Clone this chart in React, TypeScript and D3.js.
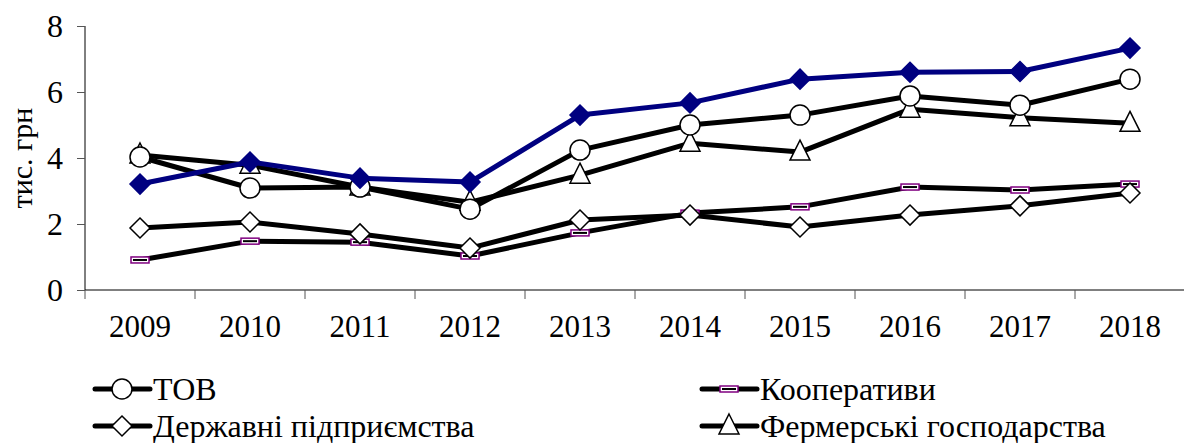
import * as d3 from "d3";
import { useRef, useEffect } from "react";

const years = ["2009", "2010", "2011", "2012", "2013", "2014", "2015", "2016", "2017", "2018"];
const yTicks = [0, 2, 4, 6, 8];

const tov = [4.03, 3.09, 3.12, 2.45, 4.24, 5.0, 5.3, 5.88, 5.6, 6.39];
const koop = [0.91, 1.48, 1.45, 1.03, 1.73, 2.33, 2.52, 3.12, 3.03, 3.21];
const derzh = [1.88, 2.06, 1.7, 1.27, 2.12, 2.27, 1.91, 2.27, 2.55, 2.94];
const ferm = [4.09, 3.78, 3.12, 2.66, 3.48, 4.45, 4.18, 5.48, 5.22, 5.05];
const total = [3.21, 3.88, 3.39, 3.27, 5.3, 5.67, 6.39, 6.6, 6.62, 7.33];

const legendNames = ["ТОВ", "Кооперативи", "Державні підприємства", "Фермерські господарства"];

const width = 1184;
const height = 443;
const marginLeft = 85;
const marginTop = 26;
const plotBottom = 290;
const font = "Liberation Serif, Times New Roman, serif";

type Series = { values: number[]; color: string; marker: string };

const App = () => {
  const ref = useRef<SVGSVGElement>(null);

  useEffect(() => {
    if (!ref.current) return;
    const svg = d3.select(ref.current);
    svg.selectAll("*").remove();

    const x = d3.scaleBand().domain(years).range([marginLeft, width + 1]);
    const y = d3.scaleLinear().domain([0, 8]).range([plotBottom, marginTop]);

    // axes
    const yAxis = svg.append("g").attr("transform", `translate(${marginLeft},0)`)
      .call(d3.axisLeft(y).tickValues(yTicks).tickSize(8).tickPadding(14).tickFormat(d3.format("d")));
    yAxis.select(".domain").attr("stroke", "#000").attr("d", `M0,${marginTop}V${plotBottom}`);
    yAxis.selectAll(".tick line").attr("stroke", "#555");
    yAxis.selectAll("text").style("font-family", font).style("font-size", "32px").attr("fill", "#000");

    const xAxis = svg.append("g").attr("transform", `translate(0,${plotBottom})`)
      .call(d3.axisBottom(x).tickSize(0).tickPadding(25));
    xAxis.select(".domain").attr("stroke", "#000").attr("d", `M${marginLeft},0H${width}`);
    xAxis.selectAll("text").style("font-family", font).style("font-size", "31px").attr("fill", "#000");
    xAxis.append("g").selectAll("line")
      .data(years)
      .join("line")
      .attr("x1", (d) => x(d)!).attr("x2", (d) => x(d)!)
      .attr("y1", 0).attr("y2", 9)
      .attr("stroke", "#555");

    svg.append("text")
      .attr("transform", `translate(32,${(marginTop + plotBottom) / 2}) rotate(-90)`)
      .attr("text-anchor", "middle")
      .style("font-family", font)
      .style("font-size", "30px")
      .text("тис. грн");

    const series: Series[] = [
      { values: koop, color: "#000", marker: "rect" },
      { values: derzh, color: "#000", marker: "diamond" },
      { values: ferm, color: "#000", marker: "triangle" },
      { values: tov, color: "#000", marker: "circle" },
      { values: total, color: "#000080", marker: "fdiamond" },
    ];

    const cx = (i: number) => x(years[i])! + x.bandwidth() / 2;
    const line = d3.line<number>().x((_, i) => cx(i)).y((d) => y(d));

    const drawMarker = (g: any, kind: string, px: number, py: number) => {
      if (kind === "circle") {
        g.append("circle").attr("cx", px).attr("cy", py).attr("r", 10)
          .attr("fill", "#fff").attr("stroke", "#000").attr("stroke-width", 1.5);
      } else if (kind === "diamond" || kind === "fdiamond") {
        const s = 10;
        g.append("path")
          .attr("d", `M${px},${py - s}L${px + s},${py}L${px},${py + s}L${px - s},${py}Z`)
          .attr("fill", kind === "fdiamond" ? "#000080" : "#fff")
          .attr("stroke", kind === "fdiamond" ? "#000080" : "#000")
          .attr("stroke-width", 1.5);
      } else if (kind === "triangle") {
        g.append("path")
          .attr("d", `M${px},${py - 12}L${px + 10},${py + 8}L${px - 10},${py + 8}Z`)
          .attr("fill", "#fff").attr("stroke", "#000").attr("stroke-width", 1.5);
      } else if (kind === "rect") {
        g.append("rect").attr("x", px - 9).attr("y", py - 3).attr("width", 18).attr("height", 6)
          .attr("fill", "#fff").attr("stroke", "#800080").attr("stroke-width", 1.5);
        g.append("line").attr("x1", px - 7).attr("x2", px + 7).attr("y1", py).attr("y2", py)
          .attr("stroke", "#000").attr("stroke-width", 2);
      }
    };

    series.forEach((s) => {
      svg.append("path")
        .attr("d", line(s.values))
        .attr("fill", "none")
        .attr("stroke", s.color)
        .attr("stroke-width", 5)
        .attr("stroke-linejoin", "round");
    });
    series.forEach((s) => {
      const g = svg.append("g");
      s.values.forEach((v, i) => drawMarker(g, s.marker, cx(i), y(v)));
    });

    // legend
    const legendItems = [
      { name: legendNames[0], marker: "circle", lx: 95, ly: 389 },
      { name: legendNames[1], marker: "rect", lx: 702, ly: 389 },
      { name: legendNames[2], marker: "diamond", lx: 95, ly: 426 },
      { name: legendNames[3], marker: "triangle", lx: 702, ly: 426 },
    ];
    legendItems.forEach((it) => {
      const g = svg.append("g");
      g.append("line").attr("x1", it.lx).attr("x2", it.lx + 55).attr("y1", it.ly).attr("y2", it.ly)
        .attr("stroke", "#000").attr("stroke-width", 5).attr("stroke-linecap", "round");
      drawMarker(g, it.marker, it.lx + 27, it.ly);
      g.append("text").attr("x", it.lx + 58).attr("y", it.ly + 11)
        .style("font-family", font).style("font-size", "32px").text(it.name);
    });
  }, []);

  return (
    <svg ref={ref} width={width} height={height}
      style={{ position: "absolute", left: 0, top: 0, background: "#fff" }} />
  );
};

export default App;
